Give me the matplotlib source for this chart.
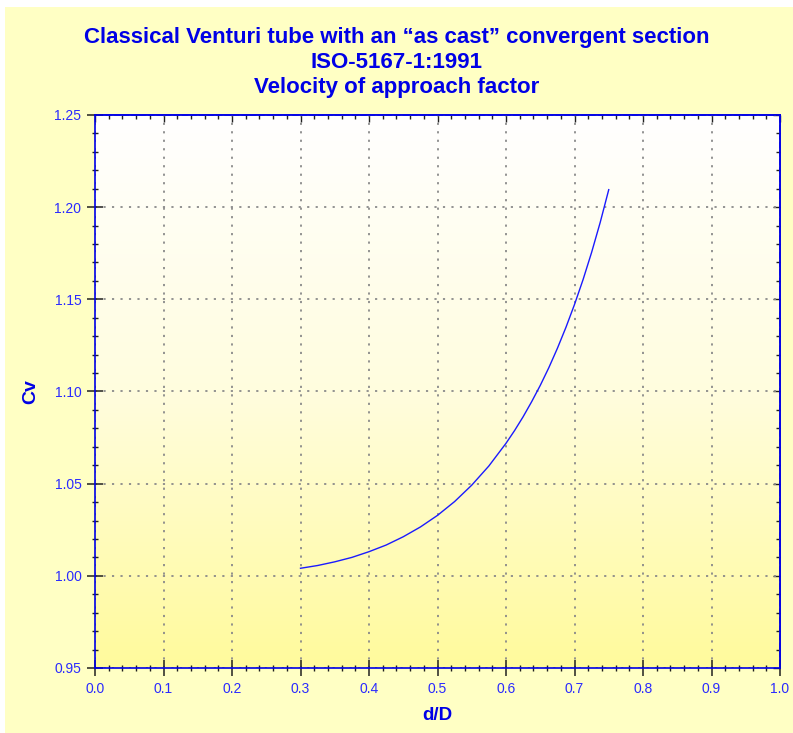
import numpy as np
import matplotlib.pyplot as plt
from matplotlib.colors import LinearSegmentedColormap
from matplotlib.patches import Rectangle
from matplotlib.ticker import MultipleLocator

plt.rcParams['font.family'] = ['Liberation Sans', 'DejaVu Sans']

# d/D ratio (beta) and velocity of approach factor
beta = [0.300, 0.325, 0.350, 0.375, 0.400, 0.425, 0.450, 0.475, 0.500, 0.525,
        0.550, 0.575, 0.600, 0.6125, 0.625, 0.6375, 0.650, 0.6625, 0.675, 0.6875,
        0.700, 0.7125, 0.725, 0.7375, 0.750]
cv = [1.0041, 1.0056, 1.0076, 1.0100, 1.0131, 1.0167, 1.0212, 1.0265, 1.0328, 1.0403,
      1.0492, 1.0596, 1.0719, 1.0788, 1.0863, 1.0945, 1.1033, 1.1129, 1.1234, 1.1348,
      1.1472, 1.1607, 1.1755, 1.1917, 1.2095]

title = 'Classical Venturi tube with an \u201cas cast\u201d convergent section\nISO-5167-1:1991\nVelocity of approach factor'

blue = '#0000e6'
tick_blue = '#2a2aff'

fig = plt.figure(figsize=(7.93, 7.33), dpi=100)
fig.patch.set_facecolor('white')
fig.patches.append(Rectangle((5/793, 0), 1, 1 - 7/733, transform=fig.transFigure,
                             facecolor='#ffffc4', edgecolor='none', zorder=-10))

ax = fig.add_axes([95/793, 65/733, 685/793, 553/733])

# white-to-yellow gradient of the plotting area
cmap = LinearSegmentedColormap.from_list('bg', ['#fffa9c', '#fffdde', '#ffffff'])
grad = np.linspace(0, 1, 256).reshape(-1, 1)
ax.imshow(grad, cmap=cmap, aspect='auto', origin='lower',
          extent=[0, 1, 0.95, 1.25], zorder=0)

ax.plot(beta, cv, color='#1a1aff', lw=1.0, zorder=3)

ax.set_xlim(0, 1)
ax.set_ylim(0.95, 1.25)
ax.xaxis.set_major_locator(MultipleLocator(0.1))
ax.xaxis.set_minor_locator(MultipleLocator(0.02))
ax.yaxis.set_major_locator(MultipleLocator(0.05))
ax.yaxis.set_minor_locator(MultipleLocator(0.01))
ax.xaxis.set_major_formatter(plt.FuncFormatter(lambda v, p: '%.1f' % v))
ax.yaxis.set_major_formatter(plt.FuncFormatter(lambda v, p: '%.2f' % v))

ax.grid(True, which='major', color='#8a8a8a', linestyle=(0, (1.2, 3.5)), lw=1.3, zorder=1)
ax.set_axisbelow(False)

ax.tick_params(which='major', direction='inout', length=11.5, width=1.1, color='#202020',
               labelcolor=tick_blue, labelsize=10, pad=4)
ax.tick_params(which='minor', direction='inout', length=5, width=1.0, color='#202020')

for s in ax.spines.values():
    s.set_color(blue)
    s.set_linewidth(1.2)
    s.set_zorder(4)

# inner ticks on top and right
top = ax.secondary_xaxis('top')
top.xaxis.set_major_locator(MultipleLocator(0.1))
top.xaxis.set_minor_locator(MultipleLocator(0.02))
top.tick_params(which='major', direction='in', length=5, width=1.0, color='#202020', labeltop=False)
top.tick_params(which='minor', direction='in', length=3, width=1.0, color='#202020')
top.spines['top'].set_color(blue)
top.spines['top'].set_linewidth(1.2)

right = ax.secondary_yaxis('right')
right.yaxis.set_major_locator(MultipleLocator(0.05))
right.yaxis.set_minor_locator(MultipleLocator(0.01))
right.tick_params(which='major', direction='in', length=5, width=1.0, color='#202020', labelright=False)
right.tick_params(which='minor', direction='in', length=3, width=1.0, color='#202020')
right.spines['right'].set_color(blue)
right.spines['right'].set_linewidth(1.2)

ax.set_xlabel('d/D', color=blue, fontsize=13.5, fontweight='bold', labelpad=8)
ax.set_ylabel('Cv', color=blue, fontsize=14, fontweight='bold', labelpad=11)

fig.text(0.5, 1 - 62/733, title, ha='center', va='center', color=blue,
         fontsize=16, fontweight='bold', linespacing=1.25)

fig.savefig('out.png', dpi=100, facecolor=fig.get_facecolor())
